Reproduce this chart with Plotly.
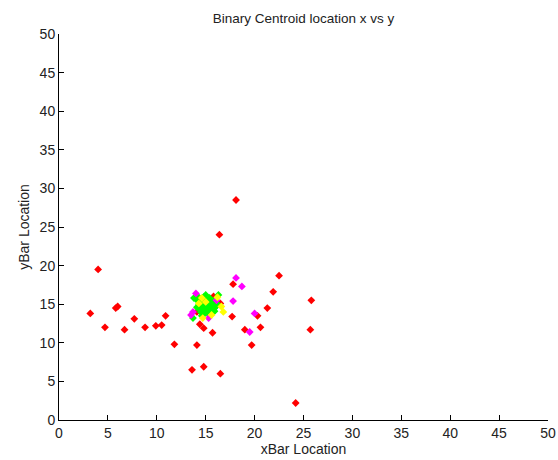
import plotly.graph_objects as go

red_x = [3.2, 4.0, 4.7, 5.8, 6.0, 6.7, 7.7, 8.8, 9.9, 10.5, 10.9, 11.8, 13.6, 14.1, 14.4, 14.8,
         14.8, 15.7, 16.4, 16.5, 18.1, 17.8, 17.7, 19.0, 19.7, 20.3, 20.6, 21.3, 21.9, 22.5,
         24.2, 25.8, 25.7, 15.8, 16.5, 14.1]
red_y = [13.8, 19.5, 12.0, 14.5, 14.7, 11.7, 13.1, 12.0, 12.2, 12.3, 13.5, 9.8, 6.5, 9.7, 12.4, 11.9,
         6.9, 11.3, 24.0, 6.0, 28.5, 17.6, 13.4, 11.7, 9.7, 13.5, 12.0, 14.5, 16.6, 18.7,
         2.2, 15.5, 11.7, 16.0, 15.1, 14.0]

green_x = [13.7, 16.3, 13.8, 14.2, 14.5, 14.8, 15.1, 15.4, 15.7, 16.0, 14.3, 14.6, 14.9, 15.2,
           15.5, 15.8, 16.1, 14.4, 14.7, 15.0, 15.3, 15.6, 15.9, 14.5, 14.9, 15.3, 15.7, 14.2,
           16.2, 15.0, 14.1, 15.9, 14.6, 15.4]
green_y = [13.2, 16.2, 15.8, 15.4, 15.6, 15.9, 15.5, 15.8, 15.4, 15.6, 14.9, 15.1, 14.8, 15.2,
           14.9, 15.1, 14.8, 14.4, 14.6, 14.3, 14.6, 14.4, 14.5, 14.0, 13.8, 14.1, 13.9, 16.0,
           15.0, 16.2, 14.6, 14.1, 13.5, 13.6]

magenta_x = [14.0, 13.5, 13.7, 15.3, 16.1, 18.1, 18.7, 17.8, 20.0, 19.5]
magenta_y = [16.4, 13.6, 14.0, 13.2, 15.5, 18.4, 17.3, 15.4, 13.8, 11.4]

yellow_x = [14.3, 16.6, 16.8, 14.7, 15.6, 15.0, 14.6, 16.2]
yellow_y = [15.1, 14.7, 14.0, 13.2, 13.6, 15.3, 15.8, 15.9]

x_ticks = [0, 5, 10, 15, 20, 25, 30, 35, 40, 45, 50]
y_ticks = [0, 5, 10, 15, 20, 25, 30, 35, 40, 45, 50]

FONT = "Liberation Sans, Arial"
fig = go.Figure()
for xs, ys, col in [(red_x, red_y, "#ff0000"), (green_x, green_y, "#00ff00"),
                    (magenta_x, magenta_y, "#ff00ff"), (yellow_x, yellow_y, "#ffff00")]:
    fig.add_trace(go.Scatter(x=xs, y=ys, mode="markers",
                             marker=dict(symbol="diamond", size=6, color=col, line=dict(width=0)),
                             showlegend=False, hoverinfo="skip"))

axis_common = dict(showgrid=False, zeroline=False, showline=True, linecolor="black", linewidth=1,
                   ticks="inside", ticklen=5, tickcolor="black", mirror=False,
                   tickfont=dict(family=FONT, size=14, color="#222"))
fig.update_layout(
    width=558, height=460,
    margin=dict(l=59, r=10, t=34, b=40, autoexpand=False),
    paper_bgcolor="white", plot_bgcolor="white",
    title=dict(text="Binary Centroid location x vs y", xref="paper", x=0.5, xanchor="center",
               yref="container", y=0.961, yanchor="middle",
               font=dict(family=FONT, size=13.5, color="#222")),
    xaxis=dict(range=[0, 50], tickvals=x_ticks, ticktext=[str(v) for v in x_ticks],
               title=dict(text="xBar Location", standoff=3,
                          font=dict(family=FONT, size=14, color="#222")),
               **axis_common),
    yaxis=dict(range=[0, 50], tickvals=y_ticks, ticktext=[str(v) for v in y_ticks],
               title=dict(text="yBar Location", standoff=6,
                          font=dict(family=FONT, size=14, color="#222")),
               **axis_common),
)
fig.write_html("out.html")
